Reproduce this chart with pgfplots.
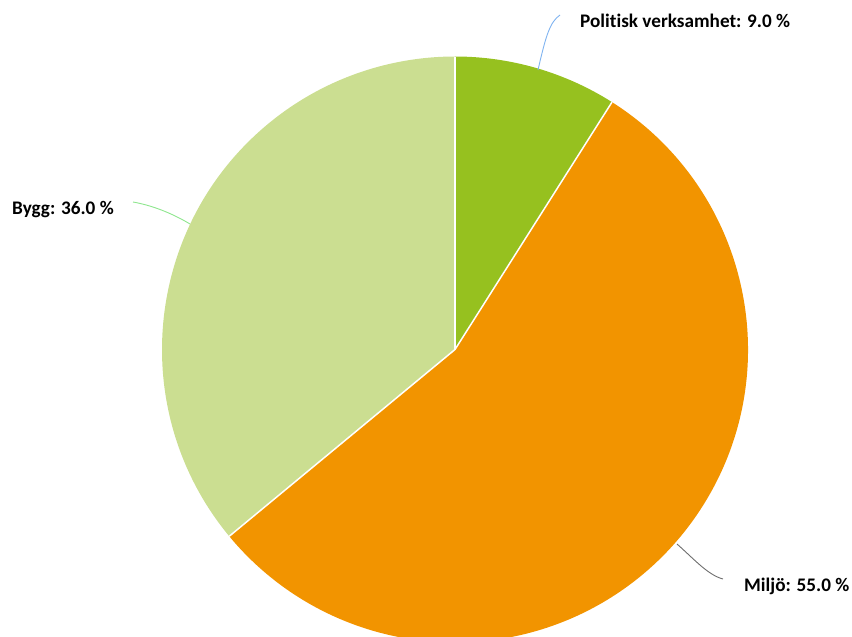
\documentclass[border=0pt]{standalone}
\usepackage{pgfplots}
\pgfplotsset{compat=1.18}
\usepackage{fontspec}
\setmainfont{Carlito}[Ligatures={NoCommon}]
\definecolor{cPol}{HTML}{96C11F}
\definecolor{cMil}{HTML}{F29400}
\definecolor{cByg}{HTML}{CBDE91}
\definecolor{lPol}{HTML}{7FB3F0}
\definecolor{lByg}{HTML}{8EE68E}
\definecolor{lMil}{HTML}{6E6E6E}
% slice values (percent), clockwise from 12 o'clock
\def\vPol{9.0}
\def\vMil{55.0}
\def\vByg{36.0}
\begin{document}
\begin{tikzpicture}
\useasboundingbox (0,0) rectangle (852pt,637pt);
\begin{axis}[
  at={(0,0)}, anchor=south west,
  width=852pt, height=637pt, scale only axis,
  xmin=0, xmax=852, ymin=0, ymax=637, y dir=reverse,
  hide axis, clip=true,
]
\addplot[draw=none] coordinates {(455,349.5)};
\pgfmathsetmacro{\aA}{90}
\pgfmathsetmacro{\aB}{90-\vPol*3.6}
\pgfmathsetmacro{\aC}{\aB-\vMil*3.6}
\pgfmathsetmacro{\aD}{\aC-\vByg*3.6}
\fill[cPol] (axis cs:455,349.5) -- ++(\aA:293pt) arc[start angle=\aA, end angle=\aB, radius=293pt] -- cycle;
\fill[cMil] (axis cs:455,349.5) -- ++(\aB:293pt) arc[start angle=\aB, end angle=\aC, radius=293pt] -- cycle;
\fill[cByg] (axis cs:455,349.5) -- ++(\aC:293pt) arc[start angle=\aC, end angle=\aD, radius=293pt] -- cycle;
\draw[white, line width=1.5pt] (axis cs:455,349.5) -- ++(\aA:293pt);
\draw[white, line width=1.5pt] (axis cs:455,349.5) -- ++(\aB:293pt);
\draw[white, line width=1.5pt] (axis cs:455,349.5) -- ++(\aC:293pt);
% leader lines
\draw[lPol, line width=0.9pt] (axis cs:538,70) .. controls (axis cs:546,35) and (axis cs:550,22) .. (axis cs:560,15);
\draw[lByg, line width=0.9pt] (axis cs:133,202) .. controls (axis cs:150,205) and (axis cs:170,212) .. (axis cs:190,224);
\draw[lMil, line width=0.9pt] (axis cs:677,544) .. controls (axis cs:695,560) and (axis cs:708,575) .. (axis cs:723,579);
% labels
\node[anchor=base west, inner sep=0pt, font=\bfseries\fontsize{19.2}{22}\selectfont] at (axis cs:580,27.5) {Politisk verksamhet: 9.0 \%};
\node[anchor=base west, inner sep=0pt, font=\bfseries\fontsize{19.2}{22}\selectfont] at (axis cs:12,214) {Bygg: 36.0 \%};
\node[anchor=base west, inner sep=0pt, font=\bfseries\fontsize{19.2}{22}\selectfont] at (axis cs:744,591) {Miljö: 55.0 \%};
\end{axis}
\end{tikzpicture}
\end{document}
